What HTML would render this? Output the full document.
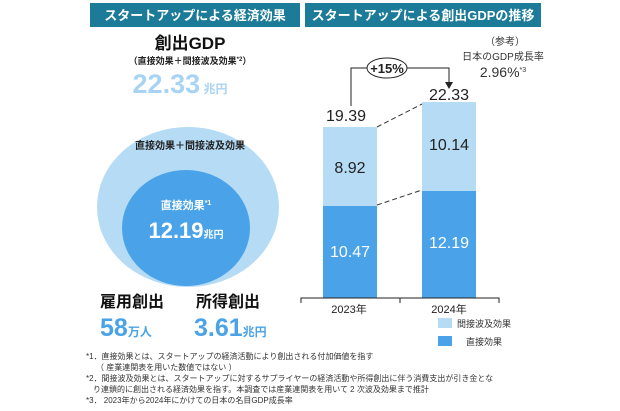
<!DOCTYPE html><html><head><meta charset="utf-8"><style>
body{margin:0;width:620px;height:406px;background:#fff;overflow:hidden;font-family:"Liberation Sans","Noto Sans CJK JP",sans-serif}
</style></head><body>
<svg width="620" height="406" xmlns="http://www.w3.org/2000/svg" font-family="Liberation Sans, Noto Sans CJK JP, sans-serif">
<rect x="90" y="3" width="210" height="24" fill="#1c7b98"/>
<text x="195" y="20" fill="#fff" font-size="13" font-weight="bold" text-anchor="middle">スタートアップによる経済効果</text>
<rect x="305" y="3" width="236" height="24" fill="#1c7b98"/>
<text x="423" y="20" fill="#fff" font-size="13" font-weight="bold" text-anchor="middle">スタートアップによる創出GDPの推移</text>
<text x="190" y="49" font-size="17" font-weight="bold" text-anchor="middle" fill="#111">創出GDP</text>
<text x="190" y="64" font-size="9" font-weight="bold" text-anchor="middle" fill="#222">（直接効果＋間接波及効果<tspan font-size="6" dy="-3">*2</tspan><tspan dy="3">）</tspan></text>
<text x="180" y="93" font-size="27" font-weight="bold" text-anchor="middle" fill="#a9d3f3">22.33<tspan font-size="12"> 兆円</tspan></text>
<ellipse cx="188" cy="207" rx="91" ry="80" fill="#b5dbf5"/>
<ellipse cx="186" cy="228" rx="64" ry="58" fill="#4aa3e8"/>
<text x="190" y="149" font-size="10" font-weight="bold" text-anchor="middle" fill="#222">直接効果＋間接波及効果</text>
<text x="186" y="209" font-size="11" font-weight="bold" text-anchor="middle" fill="#fff">直接効果<tspan font-size="7" dy="-4">*1</tspan></text>
<text x="186" y="238" font-size="22" font-weight="bold" text-anchor="middle" fill="#fff">12.19<tspan font-size="10">兆円</tspan></text>
<text x="100" y="307" font-size="16" font-weight="bold" fill="#111">雇用創出</text>
<text x="196" y="307" font-size="16" font-weight="bold" fill="#111">所得創出</text>
<text x="100" y="336" font-size="25" font-weight="bold" fill="#4aa3e8">58<tspan font-size="12">万人</tspan></text>
<text x="194" y="336" font-size="25" font-weight="bold" fill="#4aa3e8">3.61<tspan font-size="12">兆円</tspan></text>
<rect x="323" y="127" width="54" height="79" fill="#b5dbf5"/>
<rect x="323" y="206" width="54" height="92" fill="#4aa3e8"/>
<rect x="422" y="102" width="54" height="89" fill="#b5dbf5"/>
<rect x="422" y="191" width="54" height="107" fill="#4aa3e8"/>
<line x1="377" y1="127" x2="422" y2="104" stroke="#333" stroke-dasharray="5,3"/>
<line x1="377" y1="205" x2="422" y2="190" stroke="#333" stroke-dasharray="5,3"/>
<path d="M301 303V298H499V303M400 298V303" fill="none" stroke="#222"/>
<text x="350" y="173" font-size="16" text-anchor="middle" fill="#222">8.92</text>
<text x="449" y="150" font-size="16" text-anchor="middle" fill="#222">10.14</text>
<text x="350" y="257" font-size="16" text-anchor="middle" fill="#fff">10.47</text>
<text x="449" y="248" font-size="16" text-anchor="middle" fill="#fff">12.19</text>
<text x="346" y="121" font-size="16" text-anchor="middle" fill="#222">19.39</text>
<text x="449" y="100" font-size="16" text-anchor="middle" fill="#222">22.33</text>
<path d="M351 106V68H367M407 68H449V84" fill="none" stroke="#222"/>
<path d="M445 82L449 89L453 82Z" fill="#222"/>
<ellipse cx="387" cy="68" rx="20" ry="10" fill="#fff" stroke="#222"/>
<text x="387" y="73" font-size="13" font-weight="bold" text-anchor="middle" fill="#222">+15%</text>
<text x="505" y="45" font-size="10" text-anchor="middle" fill="#333">（参考）</text>
<text x="503" y="60" font-size="10" text-anchor="middle" fill="#333">日本のGDP成長率</text>
<text x="503" y="77" font-size="14" text-anchor="middle" fill="#333">2.96%<tspan font-size="7" dy="-5">*3</tspan></text>
<text x="349" y="313" font-size="11" text-anchor="middle" fill="#222">2023年</text>
<text x="449" y="313" font-size="11" text-anchor="middle" fill="#222">2024年</text>
<rect x="438" y="318" width="14" height="10" fill="#b5dbf5"/>
<text x="457" y="327" font-size="9" fill="#333">間接波及効果</text>
<rect x="438" y="336" width="14" height="10" fill="#4aa3e8"/>
<text x="466" y="345" font-size="9" fill="#333">直接効果</text>
<g font-size="8" fill="#333">
<text x="86" y="359">*1．直接効果とは、スタートアップの経済活動により創出される付加価値を指す</text>
<text x="96" y="370">（ 産業連関表を用いた数値ではない ）</text>
<text x="86" y="381">*2．間接波及効果とは、スタートアップに対するサプライヤーの経済活動や所得創出に伴う消費支出が引き金とな</text>
<text x="93" y="392">り連鎖的に創出される経済効果を指す。本調査では産業連関表を用いて 2 次波及効果まで推計</text>
<text x="86" y="403">*3． 2023年から2024年にかけての日本の名目GDP成長率</text>
</g>
</svg>
</body></html>
